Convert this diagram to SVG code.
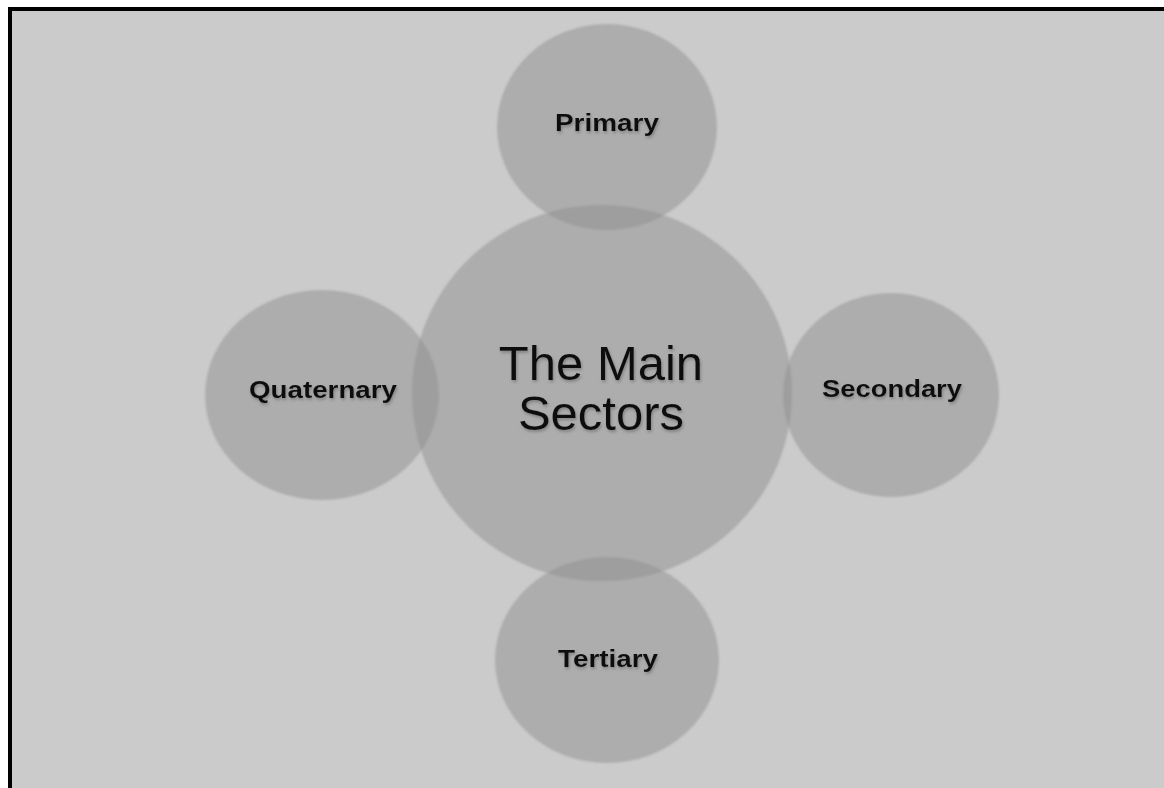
<svg xmlns="http://www.w3.org/2000/svg" width="1164" height="788" viewBox="0 0 1164 788">
<defs>
<style>
.node{fill:#8f8f8f;fill-opacity:0.5;filter:url(#soft)}
.lbl{font-family:"Liberation Sans",Arial,sans-serif;font-weight:bold;font-size:24px;fill:#111;text-anchor:middle;filter:url(#sh)}
.main{font-family:"Liberation Sans",Arial,sans-serif;font-size:49px;fill:#111;text-anchor:middle;filter:url(#sh)}
</style>
<filter id="soft" x="-10%" y="-10%" width="120%" height="120%"><feGaussianBlur stdDeviation="1.2"/></filter>
<filter id="sh" x="-10%" y="-20%" width="120%" height="150%"><feDropShadow dx="1" dy="2" stdDeviation="1.5" flood-color="#666" flood-opacity="0.6"/></filter>
</defs>
<rect width="1164" height="788" fill="#ffffff"/>
<rect x="10" y="9" width="1200" height="800" fill="#cbcbcb" stroke="#000" stroke-width="4"/>
<g id="connectors"></g>
<g id="main"><ellipse class="node" cx="602" cy="393" rx="190" ry="188"/><text class="main" x="601" y="380">The Main</text><text class="main" x="601" y="430">Sectors</text></g>
<g id="primary"><ellipse class="node" cx="607" cy="127" rx="110" ry="103"/><text class="lbl" x="607" y="131" textLength="104" lengthAdjust="spacingAndGlyphs">Primary</text></g>
<g id="quaternary"><ellipse class="node" cx="322" cy="395" rx="117" ry="105"/><text class="lbl" x="323" y="398" textLength="148" lengthAdjust="spacingAndGlyphs">Quaternary</text></g>
<g id="secondary"><ellipse class="node" cx="891" cy="395" rx="108" ry="102"/><text class="lbl" x="892" y="397" textLength="140" lengthAdjust="spacingAndGlyphs">Secondary</text></g>
<g id="tertiary"><ellipse class="node" cx="607" cy="660" rx="112" ry="103"/><text class="lbl" x="608" y="667" textLength="100" lengthAdjust="spacingAndGlyphs">Tertiary</text></g>
</svg>
